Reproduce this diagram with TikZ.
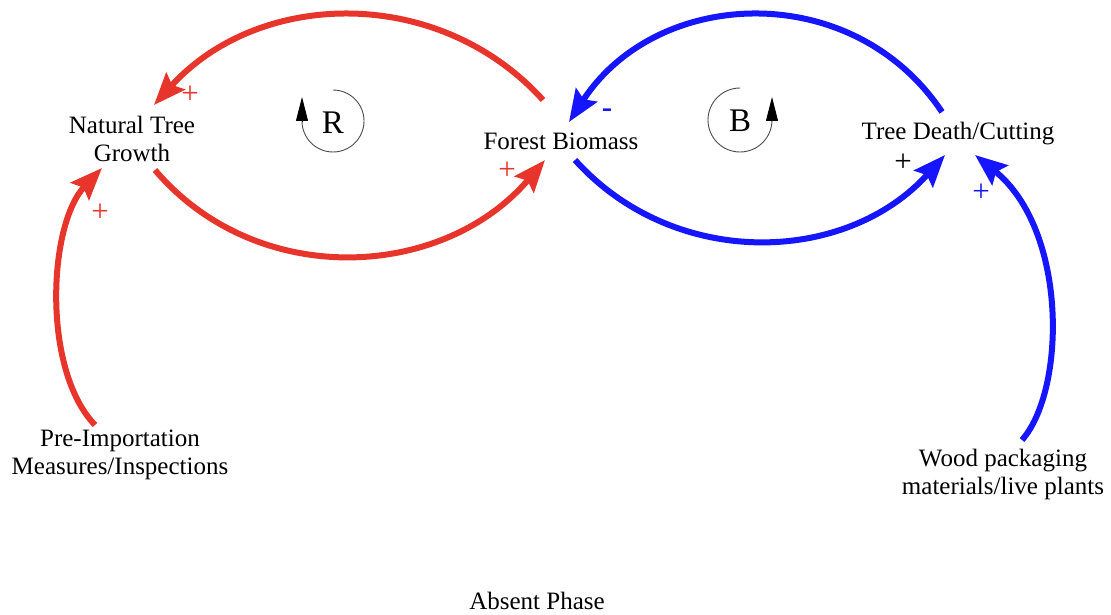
\documentclass[tikz,border=0pt]{standalone}
\usepackage{fontspec}
\setmainfont{Liberation Serif}
\usetikzlibrary{arrows.meta}
\definecolor{cdred}{HTML}{E8352B}
\definecolor{cdblue}{HTML}{1515FF}
\begin{document}
\begin{tikzpicture}[x=1pt,y=-1pt,
  lbl/.style={font=\fontsize{25}{28}\selectfont, align=center, inner sep=0pt},
  loopname/.style={font=\fontsize{33}{36}\selectfont, inner sep=0pt},
  pol/.style={font=\fontsize{31}{32}\selectfont, inner sep=0pt},
  redlink/.style={draw=cdred, line width=6pt, -{Stealth[length=32pt,width=25pt,inset=5pt]}},
  bluelink/.style={draw=cdblue, line width=6pt, -{Stealth[length=32pt,width=25pt,inset=5pt]}},
  loop/.style={draw=black!70, line width=0.9pt},
  looptip/.style={draw=black, line width=0.9pt, -{Triangle[length=24pt,width=12pt]}}
]
\useasboundingbox (0,0) rectangle (1111,615);
\fill[white] (0,0) rectangle (1111,615);

% nodes
\node[lbl] (ntg) at (132,139) {Natural Tree\\Growth};
\node[lbl] (fb) at (561,141) {Forest Biomass};
\node[lbl] (tdc) at (958,134) {Tree Death/Cutting};
\node[lbl] (pim) at (120,455) {Pre-Importation\\Measures/Inspections};
\node[lbl] (wpm) at (1003,474) {Wood packaging\\materials/live plants};
\node[lbl] (ap) at (537,601) {Absent Phase};

% connector end points
\coordinate (fbTL) at (543,100);
\coordinate (ntgTR) at (154,105);
\coordinate (ntgBR) at (155,170);
\coordinate (fbBL) at (545,160);
\coordinate (tdcTL) at (942,112);
\coordinate (fbTR) at (569,122);
\coordinate (fbBR) at (575,160);
\coordinate (tdcBL) at (945,155);
\coordinate (pimT) at (95,425);
\coordinate (ntgBL) at (102,168);
\coordinate (wpmT) at (1022,440);
\coordinate (tdcBR) at (975,155);

% red links
\draw[redlink] (fbTL) .. controls (439,-15) and (259,-11) .. (ntgTR);
\draw[redlink] (ntgBR) .. controls (257,290) and (443,280) .. (fbBL);
\draw[redlink] (pimT) .. controls (42,370) and (48,225) .. (ntgBL);
% blue links
\draw[bluelink] (tdcTL) .. controls (853,-21.5) and (657,-13.5) .. (fbTR);
\draw[bluelink] (fbBR) .. controls (674,270) and (846,265) .. (tdcBL);
\draw[bluelink] (wpmT) .. controls (1066,390) and (1068,230) .. (tdcBR);

% polarities
\node[pol, text=cdred] (p1) at (190,95) {+};
\node[pol, text=cdred] (p2) at (507,171) {+};
\node[pol, text=cdblue] (p3) at (607,113) {\textbf{-}};
\node[pol, text=black] (p4) at (903,163) {+};
\node[pol, text=cdblue] (p5) at (981,193) {+};
\node[pol, text=cdred] (p6) at (100,213) {+};

% loop R
\node[loopname] (R) at (333,123) {R};
\draw[loop] (333,121) ++(-90:31) arc[start angle=-90, end angle=180, radius=31] coordinate (rl);
\coordinate (rtip) at (302,97);
\draw[looptip] (rl) -- (rtip);
% loop B
\node[loopname] (B) at (740,121) {B};
\draw[loop] (740,120) ++(-90:32) arc[start angle=270, end angle=0, radius=32] coordinate (bl);
\coordinate (btip) at (772,97);
\draw[looptip] (bl) -- (btip);
\end{tikzpicture}
\end{document}
